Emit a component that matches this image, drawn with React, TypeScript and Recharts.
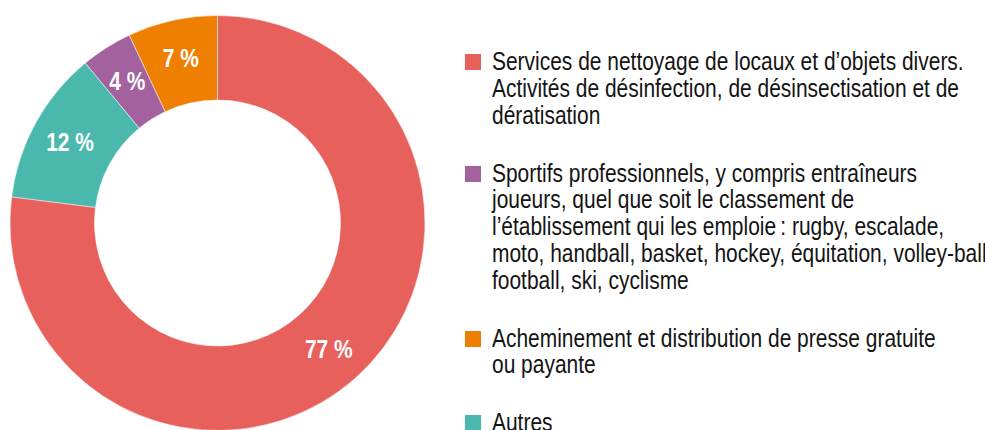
import { PieChart, Pie, Cell, Legend } from "recharts";

// slices, drawn counter-clockwise from 12 o'clock
const sliceKeys = ["presse", "sportifs", "autres", "nettoyage"];
const sliceValues = [7, 4, 12, 77];
const sliceColors = ["#EF7F00", "#A3629E", "#4BB8AD", "#E8605C"];

// legend order and wording
const legendKeys = ["nettoyage", "sportifs", "presse", "autres"];
const legendLines: string[][] = [
  [
    "Services de nettoyage de locaux et d\u2019objets divers.",
    "Activit\u00e9s de d\u00e9sinfection, de d\u00e9sinsectisation et de",
    "d\u00e9ratisation",
  ],
  [
    "Sportifs professionnels, y compris entra\u00eeneurs",
    "joueurs, quel que soit le classement de",
    "l\u2019\u00e9tablissement qui les emploie\u202f: rugby, escalade,",
    "moto, handball, basket, hockey, \u00e9quitation, volley-ball,",
    "football, ski, cyclisme",
  ],
  ["Acheminement et distribution de presse gratuite", "ou payante"],
  ["Autres"],
];

const data = sliceKeys.map((k, i) => ({ key: k, value: sliceValues[i], color: sliceColors[i] }));

// no narrow face installed, so squeeze Liberation Sans to Arial Narrow proportions
const FONT = "'Liberation Sans', Arial, sans-serif";
const NARROW = 0.838;
const RADIAN = Math.PI / 180;

// eslint-disable-next-line @typescript-eslint/no-explicit-any
const renderLabel = (props: any) => {
  const { cx, cy, midAngle, innerRadius, outerRadius, value } = props;
  const r = (innerRadius + outerRadius) / 2 + 3;
  const x = cx + r * Math.cos(-midAngle * RADIAN);
  const y = cy + r * Math.sin(-midAngle * RADIAN);
  return (
    <text x={0} y={0} transform={`translate(${x},${y}) scale(${NARROW},1)`} fill="#ffffff"
      textAnchor="middle" dominantBaseline="central" fontFamily={FONT} fontWeight="bold" fontSize={25}>
      {`${value} %`}
    </text>
  );
};

const renderLegend = () => (
  <div style={{ fontFamily: FONT, fontSize: 25, lineHeight: "26.7px", color: "#141414" }}>
    {legendKeys.map((k, i) => {
      const color = sliceColors[sliceKeys.indexOf(k)];
      return (
        <div key={k} style={{ display: "flex", alignItems: "flex-start", marginBottom: 31.3 }}>
          <span style={{ width: 16, height: 16, background: color, marginTop: 6, marginRight: 11, flex: "none" }} />
          <div>
            {legendLines[i].map((line, j) => (
              <div key={j} style={{ whiteSpace: "nowrap", transform: `scaleX(${NARROW})`, transformOrigin: "left center" }}>
                {line}
              </div>
            ))}
          </div>
        </div>
      );
    })}
  </div>
);

export default function App() {
  return (
    <div style={{ position: "absolute", left: 0, top: 0, width: 985, height: 430, overflow: "hidden", background: "#fff" }}>
      <PieChart width={985} height={430} margin={{ top: 0, right: 0, bottom: 0, left: 0 }}>
        <Pie
          data={data}
          dataKey="value"
          nameKey="key"
          cx={217.5}
          cy={223}
          innerRadius={123}
          outerRadius={207.5}
          startAngle={90}
          endAngle={450}
          stroke="#ffffff"
          strokeWidth={0.5}
          label={renderLabel}
          labelLine={false}
          isAnimationActive={false}
        >
          {data.map((d) => (
            <Cell key={d.key} fill={d.color} />
          ))}
        </Pie>
        <Legend
          layout="vertical"
          align="right"
          verticalAlign="top"
          content={renderLegend}
          wrapperStyle={{ left: 465, top: 48.3, width: 510 }}
        />
      </PieChart>
    </div>
  );
}
